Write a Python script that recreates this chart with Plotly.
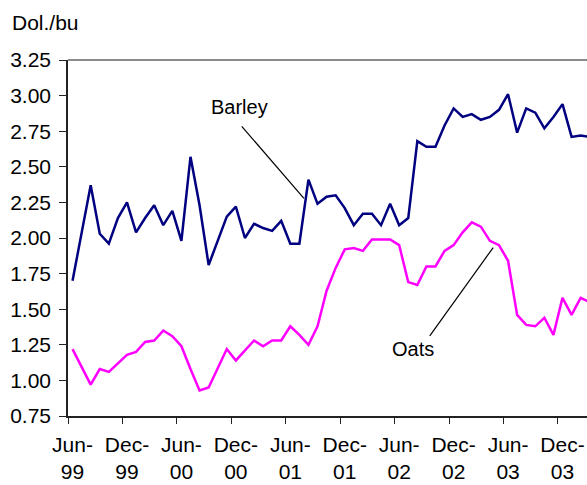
import plotly.graph_objects as go

months = ["Jun-99","Jul-99","Aug-99","Sep-99","Oct-99","Nov-99","Dec-99","Jan-00","Feb-00","Mar-00","Apr-00","May-00",
          "Jun-00","Jul-00","Aug-00","Sep-00","Oct-00","Nov-00","Dec-00","Jan-01","Feb-01","Mar-01","Apr-01","May-01",
          "Jun-01","Jul-01","Aug-01","Sep-01","Oct-01","Nov-01","Dec-01","Jan-02","Feb-02","Mar-02","Apr-02","May-02",
          "Jun-02","Jul-02","Aug-02","Sep-02","Oct-02","Nov-02","Dec-02","Jan-03","Feb-03","Mar-03","Apr-03","May-03",
          "Jun-03","Jul-03","Aug-03","Sep-03","Oct-03","Nov-03","Dec-03","Jan-04","Feb-04","Mar-04"]

barley = [1.70, 2.03, 2.37, 2.03, 1.96, 2.14, 2.25, 2.04, 2.14, 2.23, 2.09, 2.19,
          1.98, 2.57, 2.23, 1.81, 1.98, 2.15, 2.22, 2.00, 2.10, 2.07, 2.05, 2.12,
          1.96, 1.96, 2.41, 2.24, 2.29, 2.30, 2.21, 2.09, 2.17, 2.17, 2.09, 2.24,
          2.09, 2.14, 2.68, 2.64, 2.64, 2.79, 2.91, 2.85, 2.87, 2.83, 2.85, 2.90,
          3.01, 2.74, 2.91, 2.88, 2.77, 2.85, 2.94, 2.71, 2.72, 2.71]

oats = [1.22, 1.10, 0.97, 1.08, 1.06, 1.12, 1.18, 1.20, 1.27, 1.28, 1.35, 1.31,
        1.24, 1.08, 0.93, 0.95, 1.08, 1.22, 1.14, 1.21, 1.28, 1.24, 1.28, 1.28,
        1.38, 1.32, 1.25, 1.38, 1.63, 1.79, 1.92, 1.93, 1.91, 1.99, 1.99, 1.99,
        1.95, 1.69, 1.67, 1.80, 1.80, 1.91, 1.95, 2.04, 2.11, 2.08, 1.98, 1.95,
        1.84, 1.46, 1.39, 1.38, 1.44, 1.32, 1.58, 1.46, 1.58, 1.55]

tick_idx = [0, 6, 12, 18, 24, 30, 36, 42, 48, 54]
tick_text = ["Jun-<br>99", "Dec-<br>99", "Jun-<br>00", "Dec-<br>00", "Jun-<br>01",
             "Dec-<br>01", "Jun-<br>02", "Dec-<br>02", "Jun-<br>03", "Dec-<br>03"]

y_ticks = [0.75, 1.00, 1.25, 1.50, 1.75, 2.00, 2.25, 2.50, 2.75, 3.00, 3.25]

x = list(range(len(months)))
FONT = "Liberation Sans, Arial, sans-serif"
FS = 21

fig = go.Figure()
fig.add_trace(go.Scatter(x=x, y=barley, mode="lines", name="Barley",
                         line=dict(color="#000080", width=2.5), cliponaxis=True))
fig.add_trace(go.Scatter(x=x, y=oats, mode="lines", name="Oats",
                         line=dict(color="#FF00FF", width=2.5), cliponaxis=True))

fig.update_layout(
    width=587, height=485,
    margin=dict(l=68, r=0, t=60, b=69),
    paper_bgcolor="white", plot_bgcolor="white",
    showlegend=False,
    font=dict(family=FONT, size=FS, color="black"),
    xaxis=dict(range=[-0.5, 56.7], tickvals=tick_idx, ticktext=tick_text,
               ticks="", showgrid=False, zeroline=False, automargin=False,
               showline=True, linecolor="#222222", linewidth=1.5,
               tickfont=dict(size=FS), ticklabelstandoff=9,
               minor=dict(tick0=-0.5, dtick=6, ticks="outside", ticklen=6,
                          tickcolor="#222222", tickwidth=1, showgrid=False)),
    yaxis=dict(range=[0.75, 3.25], tickvals=y_ticks, tickformat=".2f",
               ticks="outside", ticklen=7, tickcolor="#222222", tickwidth=1,
               showgrid=False, zeroline=False, showline=True, automargin=False,
               linecolor="#222222", linewidth=1.5, tickfont=dict(size=FS),
               ticklabelstandoff=4),
    shapes=[
        dict(type="line", xref="paper", yref="paper", x0=0, x1=1, y0=1, y1=1,
             line=dict(color="#8c8c8c", width=2)),
        dict(type="line", xref="x", yref="y", x0=18.65, y0=2.784, x1=25.5, y1=2.279,
             line=dict(color="black", width=1.2)),
        dict(type="line", xref="x", yref="y", x0=39.37, y0=1.313, x1=46.36, y1=1.933,
             line=dict(color="black", width=1.2)),
    ],
    annotations=[
        dict(text="Dol./bu", xref="paper", yref="paper", x=-58/518.7, y=1 + 37/356,
             xanchor="left", yanchor="middle", showarrow=False, font=dict(size=FS)),
        dict(text="Barley", xref="x", yref="y", x=18.38, y=2.917, showarrow=False,
             xanchor="center", yanchor="middle", font=dict(size=FS - 1)),
        dict(text="Oats", xref="x", yref="y", x=37.5, y=1.22, showarrow=False,
             xanchor="center", yanchor="middle", font=dict(size=FS - 1)),
    ],
)

fig.write_html("out.html")
